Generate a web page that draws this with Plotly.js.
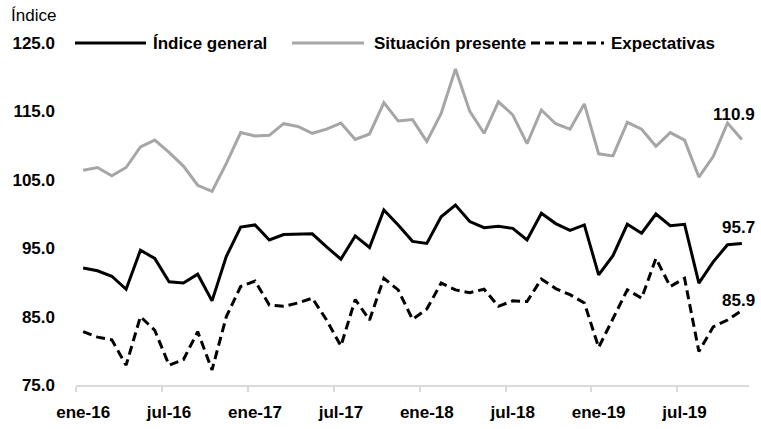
<!DOCTYPE html>
<html>
<head>
<meta charset="utf-8">
<script src="https://cdn.plot.ly/plotly-3.0.1.min.js"></script>
<style>html,body{margin:0;padding:0;background:#fff;}#chart{width:761px;height:429px;}</style>
</head>
<body>
<div id="chart"></div>
<script>
const months = [
  "ene-16","feb-16","mar-16","abr-16","may-16","jun-16","jul-16","ago-16","sep-16","oct-16","nov-16","dic-16",
  "ene-17","feb-17","mar-17","abr-17","may-17","jun-17","jul-17","ago-17","sep-17","oct-17","nov-17","dic-17",
  "ene-18","feb-18","mar-18","abr-18","may-18","jun-18","jul-18","ago-18","sep-18","oct-18","nov-18","dic-18",
  "ene-19","feb-19","mar-19","abr-19","may-19","jun-19","jul-19","ago-19","sep-19","oct-19","nov-19"
];
const indiceGeneral = [
  92.1, 91.7, 90.9, 89.0, 94.7, 93.5, 90.1, 89.9, 91.2, 87.3, 93.8, 98.1,
  98.4, 96.2, 97.0, 97.0, 97.1, 95.2, 93.4, 96.8, 95.1, 100.6, 98.4, 96.0,
  95.7, 99.6, 101.3, 98.9, 98.0, 98.2, 97.9, 96.2, 100.1, 98.6, 97.6, 98.4,
  91.1, 93.9, 98.5, 97.2, 100.0, 98.3, 98.5, 89.9, 93.0, 95.5, 95.7
];
const situacionPresente = [
  106.4, 106.8, 105.6, 106.8, 109.8, 110.8, 109.0, 107.0, 104.2, 103.3, 107.4, 111.9,
  111.4, 111.5, 113.2, 112.8, 111.8, 112.4, 113.3, 110.9, 111.7, 116.3, 113.6, 113.8,
  110.6, 114.7, 121.2, 115.0, 111.8, 116.4, 114.5, 110.3, 115.2, 113.2, 112.4, 116.1,
  108.8, 108.5, 113.4, 112.4, 109.9, 111.9, 110.8, 105.4, 108.4, 113.3, 110.9
];
const expectativas = [
  82.8, 82.0, 81.6, 77.9, 85.0, 83.0, 77.9, 78.7, 82.8, 77.2, 85.0, 89.4,
  90.2, 86.7, 86.5, 87.0, 87.7, 84.5, 80.7, 87.5, 84.5, 90.6, 88.9, 84.6,
  86.1, 89.9, 88.9, 88.5, 89.0, 86.5, 87.3, 87.2, 90.5, 89.1, 88.2, 87.0,
  80.5, 84.6, 88.9, 87.7, 93.5, 89.4, 90.6, 79.9, 83.5, 84.5, 85.9
];
const seriesNames = ["Índice general", "Situación presente", "Expectativas"];
const yTicks = [75, 85, 95, 105, 115, 125];
const yAxisTitle = "Índice";

const FONT = "'Liberation Sans', Arial, sans-serif";
const colors = ["#000000", "#a6a6a6", "#000000"];
const dashes = ["solid", "solid", "9px,5px"];
const allSeries = [indiceGeneral, situacionPresente, expectativas];

const traces = allSeries.map((vals, k) => ({
  type: "scatter", mode: "lines", x: months, y: vals, name: seriesNames[k],
  line: {color: colors[k], width: 3, dash: dashes[k]},
  hoverinfo: "x+y"
}));

const L = 76, W = 673, T = 43, H = 342;
const px = p => (p - L) / W;
const py = p => (T + H - p) / H;

const legendLines = [[75, 146], [292, 364], [531, 604]];
const legendTextX = [151, 372, 609];
const shapes = legendLines.map((seg, k) => ({
  type: "line", xref: "paper", yref: "paper",
  x0: px(seg[0]), x1: px(seg[1]), y0: py(43), y1: py(43),
  line: {color: colors[k], width: 3, dash: dashes[k]}
}));

const annotations = seriesNames.map((n, k) => ({
  xref: "paper", yref: "paper", x: px(legendTextX[k]), y: py(43),
  xanchor: "left", yanchor: "middle", showarrow: false, text: "<b>" + n + "</b>",
  font: {family: FONT, size: 17, color: "#000"}
}));
annotations.push({
  xref: "paper", yref: "paper", x: px(9), y: py(16), xanchor: "left", yanchor: "middle",
  showarrow: false, text: yAxisTitle, font: {family: FONT, size: 17, color: "#000"}
});
const endShift = [16, 25, 10];
allSeries.forEach((vals, k) => {
  const last = vals[vals.length - 1];
  annotations.push({
    x: months[months.length - 1], y: last, xref: "x", yref: "y",
    xanchor: "right", yanchor: "middle", showarrow: false,
    xshift: 15, yshift: endShift[k],
    text: "<b>" + last.toFixed(1) + "</b>",
    font: {family: FONT, size: 17, color: "#000"}
  });
});

const layout = {
  width: 761, height: 429,
  margin: {l: L, r: 761 - L - W, t: T, b: 429 - T - H},
  paper_bgcolor: "#fff", plot_bgcolor: "#fff",
  showlegend: false,
  font: {family: FONT, size: 17, color: "#000"},
  xaxis: {
    type: "category", range: [-0.5, months.length - 0.5],
    tick0: 0, dtick: 6, tickson: "boundaries", tickangle: 0,
    ticks: "outside", ticklen: 5, tickwidth: 2, tickcolor: "#d9d9d9",
    showline: true, linecolor: "#d9d9d9", linewidth: 2,
    showgrid: false, zeroline: false, ticklabelstandoff: 11,
    tickfont: {family: FONT, size: 17, color: "#000", weight: "bold"}
  },
  yaxis: {
    range: [75, 125], tickvals: yTicks, ticktext: yTicks.map(v => v.toFixed(1)),
    showgrid: false, zeroline: false, showline: false, ticks: "",
    ticklabelstandoff: 20,
    tickfont: {family: FONT, size: 17, color: "#000", weight: "bold"}
  },
  shapes: shapes,
  annotations: annotations
};

Plotly.newPlot("chart", traces, layout, {staticPlot: true, displayModeBar: false});
</script>
</body>
</html>
